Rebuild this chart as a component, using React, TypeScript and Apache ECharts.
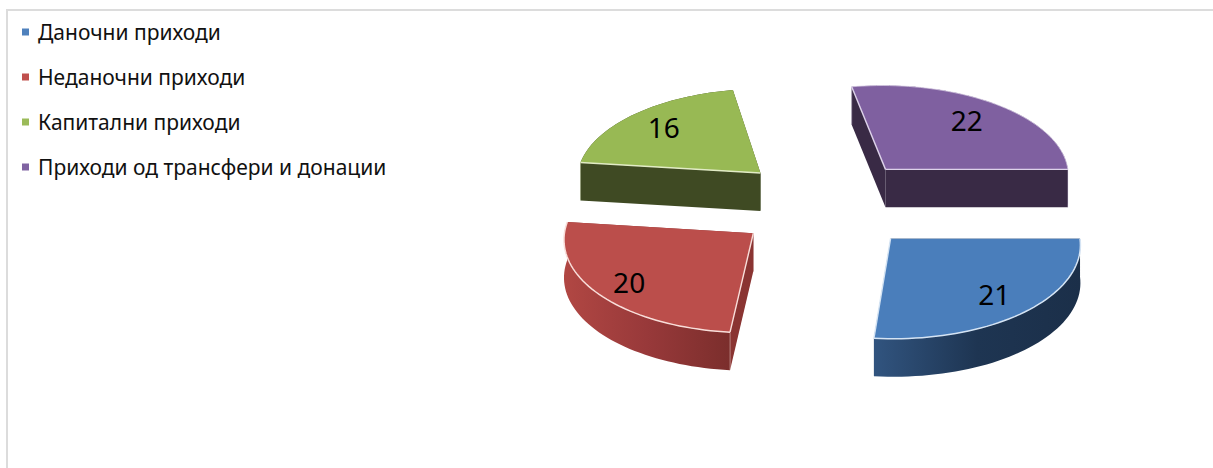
import React, { useEffect, useRef } from "react";
import * as echarts from "echarts";

const categories = ["Даночни приходи", "Неданочни приходи", "Капитални приходи", "Приходи од трансфери и донации"];
const values = [21, 20, 16, 22];
const topColors = ["#4A7EBB", "#BB4E4B", "#98B954", "#7F60A0"];
const legendColors = ["#4F81BD", "#C0504D", "#9BBB59", "#8064A2"];
const edgeColors = ["#D5E4F4", "#F9DEDA", "#E2ECC6", "#DDD2EA"];
const radialWall = ["#1C314C", "#8A3432", "#3F4A23", "#392A45"];
const arcWall = [
  ["#31547F", "#1E3552", "#1B2F49"],
  ["#B14743", "#98393A", "#7B2E2C"],
  ["#3F4A23", "#3F4A23", "#3F4A23"],
  ["#392A45", "#392A45", "#392A45"],
];
const layers = [3, 3, 1, 1];
// which straight edges of each top face carry the bright bevel (0 = first, 1 = last)
const brightEdges = [[1], [0], [0], [0, 1]];
const labelRadii = [0.78, 0.81, 0.76, 0.73];

const CX = 827, CY = 204, RX = 186, RY = 92, PERSP = 0.05, DEPTH = 38, EXPLODE = 0.5;
const total = values.reduce((a, b) => a + b, 0);

type Pt = [number, number];

function project(u: number, v: number, h: number): Pt {
  const s = 1 + PERSP * v;
  return [CX + RX * u * s, CY + RY * v * s + h * DEPTH];
}

function sliceItem(index: number, value: number) {
  const before = values.slice(0, index).reduce((a, b) => a + b, 0);
  const a0 = (before / total) * Math.PI * 2;
  const a1 = a0 + (value / total) * Math.PI * 2;
  const mid = (a0 + a1) / 2;
  const ou = EXPLODE * Math.cos(mid);
  const ov = EXPLODE * Math.sin(mid);
  const rim: Pt[] = [];
  const steps = 48;
  for (let i = 0; i <= steps; i++) {
    const a = a0 + ((a1 - a0) * i) / steps;
    rim.push([ou + Math.cos(a), ov + Math.sin(a)]);
  }
  const top = rim.map(([u, v]) => project(u, v, 0));
  const bottom = rim.map(([u, v]) => project(u, v, 1));
  const apexTop = project(ou, ov, 0);
  const apexBottom = project(ou, ov, 1);
  const edge = edgeColors[index];
  const facingFront = Math.sin(mid) > 0;

  const outer = {
    type: "polygon",
    shape: { points: [...top, ...bottom.slice().reverse()] },
    style: {
      fill: new echarts.graphic.LinearGradient(0, 0, 1, 0, [
        { offset: 0, color: arcWall[index][0] },
        { offset: 0.5, color: arcWall[index][1] },
        { offset: 1, color: arcWall[index][2] },
      ]),
    },
  };
  const radial = (p: Pt, q: Pt) => ({
    type: "polygon",
    shape: { points: [apexTop, p, q, apexBottom] },
    style: { fill: radialWall[index] },
  });
  // the face whose rim point lies lower on screen sits in front of the other one
  const radials =
    top[0][1] > top[steps][1]
      ? [radial(top[steps], bottom[steps]), radial(top[0], bottom[0])]
      : [radial(top[0], bottom[0]), radial(top[steps], bottom[steps])];
  const walls = facingFront ? [...radials, outer] : [outer, ...radials];

  const bright: any[] = brightEdges[index].map((which) => {
    const k = which === 0 ? 0 : steps;
    return {
      type: "polyline",
      shape: { points: [apexTop, top[k]] },
      style: { stroke: edge, lineWidth: 1.4, fill: "none" },
    };
  });
  if (facingFront || index === 3) {
    bright.push({
      type: "polyline",
      shape: { points: top },
      style: { stroke: edge, lineWidth: index === 3 ? 0.8 : 1.5, fill: "none" },
    });
  }
  // thin light vertical line at the visible wall corners
  const corners: any[] = brightEdges[index].map((which) => {
    const k = which === 0 ? 0 : steps;
    return {
      type: "line",
      shape: { x1: top[k][0], y1: top[k][1], x2: bottom[k][0], y2: bottom[k][1] },
      style: { stroke: edge, lineWidth: 0.7, opacity: index === 0 ? 0 : 0.6 },
    };
  });

  const labelR = labelRadii[index];
  const [lx, ly] = project(ou + labelR * Math.cos(mid), ov + labelR * Math.sin(mid), 0);

  return {
    type: "group",
    children: [
      ...walls,
      ...corners,
      {
        type: "polygon",
        shape: { points: [apexTop, ...top] },
        style: { fill: topColors[index] },
      },
      ...bright,
      {
        type: "text",
        style: {
          text: String(value),
          x: lx,
          y: ly - 1,
          fill: "#000",
          fontFamily: "Noto Sans",
          fontSize: 28,
          align: "center",
          verticalAlign: "middle",
        },
      },
    ],
  };
}

export default function App() {
  const ref = useRef<HTMLDivElement>(null);
  useEffect(() => {
    document.body.style.margin = "0";
    const chart = echarts.init(ref.current!, undefined, { renderer: "svg" });
    chart.setOption({
      animation: false,
      backgroundColor: "#fff",
      legend: {
        orient: "vertical",
        left: 17,
        top: 13,
        icon: "rect",
        itemWidth: 7,
        itemHeight: 7,
        itemGap: 17,
        data: categories,
        selectedMode: false,
        textStyle: { fontFamily: "Noto Sans", fontSize: 21, color: "#111", lineHeight: 28, padding: [0, 0, 0, 4] },
      },
      graphic: [
        {
          type: "polyline",
          silent: true,
          shape: { points: [[7, 468], [7, 10], [1213, 10]] },
          style: { stroke: "#DCDCDC", lineWidth: 2, fill: "none" },
        },
      ],
      series: categories.map((name, i) => ({
        type: "custom",
        name,
        coordinateSystem: "none",
        silent: true,
        z: layers[i],
        itemStyle: { color: legendColors[i] },
        data: [values[i]],
        renderItem: (_p: any, api: any) => sliceItem(i, api.value(0)),
      })),
    });
    return () => chart.dispose();
  }, []);
  return <div ref={ref} style={{ width: 1213, height: 468 }} />;
}
